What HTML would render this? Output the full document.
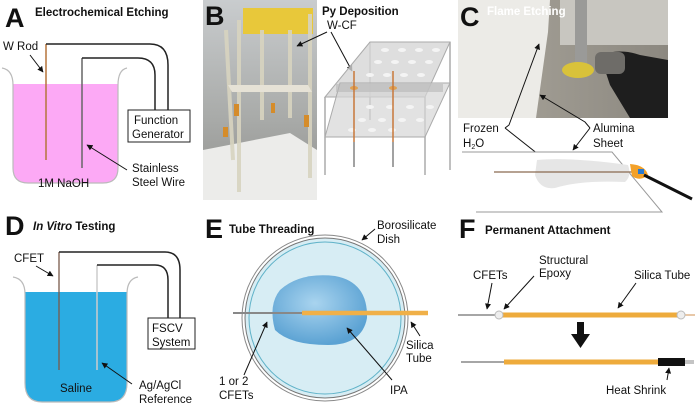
<!DOCTYPE html>
<html><head><meta charset="utf-8"><style>
html,body{margin:0;padding:0;background:#fff}
svg{display:block}
text{font-family:"Liberation Sans",sans-serif;font-size:11.5px;fill:#111}
.b{font-weight:bold}
.L{font-size:27px;font-weight:bold}
</style></head><body>
<svg width="696" height="407" viewBox="0 0 696 407" xmlns="http://www.w3.org/2000/svg">
<defs>
<marker id="ar" viewBox="0 0 10 10" refX="9" refY="5" markerWidth="6" markerHeight="6" orient="auto"><path d="M0,0L10,5L0,10z" fill="#111"/></marker>
<linearGradient id="gb" x1="0" y1="0" x2="0" y2="1"><stop offset="0" stop-color="#c9ccce"/><stop offset="0.6" stop-color="#a8aaa8"/><stop offset="1" stop-color="#8f8f8c"/></linearGradient>
<linearGradient id="gc" x1="0" y1="0" x2="1" y2="0"><stop offset="0" stop-color="#aaa69c"/><stop offset="1" stop-color="#8c8880"/></linearGradient>
<radialGradient id="ipa" cx="0.45" cy="0.4" r="0.6"><stop offset="0" stop-color="#a9d4ef"/><stop offset="1" stop-color="#5ba2d3"/></radialGradient>
</defs>

<!-- A -->
<text x="5" y="27" class="L">A</text>
<text x="35" y="16" class="b">Electrochemical Etching</text>
<path d="M13,84 L118,84 L118,168 Q118,183 103,183 L28,183 Q13,183 13,168 Z" fill="#fca9f5"/>
<path d="M2,68 Q13,70 13,85 L13,168 Q13,183 28,183 L103,183 Q118,183 118,168 L118,85 Q118,70 127,68" fill="none" stroke="#bbb" stroke-width="1.2"/>
<line x1="46" y1="44" x2="46" y2="160" stroke="#b5743a" stroke-width="1.5"/>
<path d="M46,44 L150,44 Q168,44 168,65 L168,110" fill="none" stroke="#222" stroke-width="1.5"/>
<line x1="82" y1="58" x2="82" y2="168" stroke="#666" stroke-width="1.5"/>
<path d="M82,58 L138,58 Q155,58 155,75 L155,110" fill="none" stroke="#222" stroke-width="1.5"/>
<rect x="128" y="110" width="62" height="32" fill="#fff" stroke="#222" stroke-width="1"/>
<text x="134" y="124">Function</text><text x="132" y="138">Generator</text>
<text x="3" y="50">W Rod</text>
<line x1="30" y1="55" x2="43" y2="72" stroke="#111" marker-end="url(#ar)"/>
<text x="38" y="187">1M NaOH</text>
<text x="132" y="172">Stainless</text><text x="132" y="186">Steel Wire</text>
<line x1="127" y1="170" x2="87" y2="145" stroke="#111" marker-end="url(#ar)"/>

<!-- B photo -->
<rect x="203" y="0" width="114" height="200" fill="url(#gb)"/>
<path d="M203,150 L290,133 L317,150 L317,200 L203,200Z" fill="#ececea"/>
<rect x="243" y="8" width="70" height="26" fill="#e8c83a"/>
<g stroke="#d8d4c0" stroke-width="4" opacity="0.9">
<line x1="239" y1="20" x2="239" y2="192"/><line x1="310" y1="14" x2="310" y2="178"/><line x1="262" y1="30" x2="262" y2="120"/><line x1="290" y1="30" x2="290" y2="118"/><line x1="226" y1="30" x2="233" y2="160"/>
</g>
<path d="M228,85 L308,85 L312,92 L232,92Z" fill="#e6e2d6"/>
<rect x="234" y="104" width="5" height="12" fill="#d58c2a"/><rect x="271" y="103" width="4" height="10" fill="#d58c2a"/><rect x="304" y="115" width="5" height="12" fill="#d58c2a"/><rect x="223" y="127" width="5" height="10" fill="#d58c2a"/>
<text x="205" y="25" class="L">B</text>
<text x="322" y="15" class="b" font-size="12.5">Py Deposition</text>
<text x="327" y="29">W-CF</text>
<line x1="327" y1="32" x2="297" y2="46" stroke="#111" marker-end="url(#ar)"/>
<line x1="331" y1="32" x2="352" y2="71" stroke="#111" marker-end="url(#ar)"/>
<!-- B schematic -->
<g stroke="#aaa" stroke-width="1.5" fill="none"><line x1="370" y1="42" x2="370" y2="120"/><line x1="450" y1="42" x2="450" y2="170"/><line x1="325" y1="97" x2="325" y2="175"/><line x1="425" y1="97" x2="425" y2="175"/></g>
<path d="M370,42 L450,42 L425,97 L325,97Z" fill="#d6d6d6" fill-opacity="0.8" stroke="#aaa"/>
<path d="M340,83 L450,83 L425,137 L325,137Z" fill="#d6d6d6" fill-opacity="0.7" stroke="#aaa"/>
<rect x="336" y="84" width="107" height="8" fill="#b8b8b8" opacity="0.6"/>
<g fill="#f4f4f4"><ellipse cx="385" cy="50" rx="4" ry="2"/><ellipse cx="402" cy="50" rx="4" ry="2"/><ellipse cx="419" cy="50" rx="4" ry="2"/><ellipse cx="436" cy="50" rx="4" ry="2"/><ellipse cx="378" cy="62" rx="4" ry="2"/><ellipse cx="395" cy="62" rx="4" ry="2"/><ellipse cx="412" cy="62" rx="4" ry="2"/><ellipse cx="429" cy="62" rx="4" ry="2"/><ellipse cx="370" cy="75" rx="4" ry="2"/><ellipse cx="387" cy="75" rx="4" ry="2"/><ellipse cx="404" cy="75" rx="4" ry="2"/><ellipse cx="421" cy="75" rx="4" ry="2"/><ellipse cx="370" cy="107" rx="4" ry="2"/><ellipse cx="390" cy="107" rx="4" ry="2"/><ellipse cx="410" cy="107" rx="4" ry="2"/><ellipse cx="430" cy="107" rx="4" ry="2"/><ellipse cx="362" cy="120" rx="4" ry="2"/><ellipse cx="382" cy="120" rx="4" ry="2"/><ellipse cx="402" cy="120" rx="4" ry="2"/><ellipse cx="420" cy="120" rx="4" ry="2"/><ellipse cx="352" cy="130" rx="4" ry="2"/><ellipse cx="372" cy="130" rx="4" ry="2"/><ellipse cx="392" cy="130" rx="4" ry="2"/></g>
<ellipse cx="354" cy="88" rx="4" ry="2" fill="#e0a050"/><ellipse cx="393" cy="88" rx="4" ry="2" fill="#e0a050"/>
<line x1="354" y1="71" x2="354" y2="142" stroke="#c8783a" stroke-width="1.5"/><line x1="354" y1="142" x2="354" y2="167" stroke="#444" stroke-width="1"/>
<line x1="393" y1="71" x2="393" y2="142" stroke="#c8783a" stroke-width="1.5"/><line x1="393" y1="142" x2="393" y2="167" stroke="#444" stroke-width="1"/>

<!-- C photo -->
<rect x="458" y="0" width="210" height="118" fill="url(#gc)"/>
<rect x="560" y="0" width="108" height="45" fill="#c8c6c0"/>
<rect x="575" y="0" width="12" height="70" fill="#9a9a98"/>
<ellipse cx="578" cy="70" rx="16" ry="8" fill="#d9c23a"/>
<path d="M458,0 L550,0 L548,32 L536,118 L458,118Z" fill="#ecebe7"/>
<path d="M600,55 Q620,48 640,55 L668,60 L668,118 L630,118 L610,85 Z" fill="#1e1e1e"/>
<rect x="595" y="52" width="30" height="22" rx="6" fill="#6e6c68"/>
<text x="460" y="26" class="L">C</text>
<text x="487" y="15" class="b" style="fill:#fff" font-size="12.5">Flame Etching</text>
<text x="463" y="132">Frozen</text><text x="463" y="147">H<tspan font-size="7" dy="2">2</tspan><tspan dy="-2">O</tspan></text>
<text x="593" y="132">Alumina</text><text x="593" y="147">Sheet</text>
<path d="M505,128 L509,125 L539,44" fill="none" stroke="#111" marker-end="url(#ar)"/>
<path d="M505,128 L548,162" fill="none" stroke="#111" marker-end="url(#ar)"/>
<path d="M590,128 L585,122 L540,95" fill="none" stroke="#111" marker-end="url(#ar)"/>
<path d="M590,128 L573,150" fill="none" stroke="#111" marker-end="url(#ar)"/>
<path d="M462,152 L612,152 L662,212 L476,212" fill="#fff" stroke="#999"/>
<path d="M537,160 Q570,157 628,165 Q632,176 625,182 Q580,180 555,188 Q540,190 535,175Z" fill="#e6e6e6"/>
<line x1="494" y1="172" x2="640" y2="172" stroke="#8a6a50" stroke-width="1.2"/>
<path d="M630,164 Q645,165 648,175 Q640,182 632,176Z" fill="#f3a12a"/>
<rect x="638" y="169" width="6" height="5" fill="#2a7ad0"/>
<line x1="644" y1="175" x2="692" y2="199" stroke="#111" stroke-width="3"/>

<!-- D -->
<text x="5" y="235" class="L">D</text>
<text x="33" y="230" class="b"><tspan font-style="italic">In Vitro</tspan> Testing</text>
<path d="M25,292 L127,292 L127,383 Q127,402 110,402 L42,402 Q25,402 25,383Z" fill="#2bace2"/>
<path d="M13,277 Q25,279 25,294 L25,383 Q25,402 42,402 L110,402 Q127,402 127,383 L127,294 Q127,279 138,277" fill="none" stroke="#bbb" stroke-width="1.2"/>
<line x1="59" y1="252" x2="59" y2="370" stroke="#7a5a4a" stroke-width="1.3"/>
<path d="M59,252 L165,252 Q180,252 180,270 L180,318" fill="none" stroke="#222" stroke-width="1.5"/>
<line x1="97" y1="265" x2="97" y2="370" stroke="#ccc" stroke-width="1.5"/>
<path d="M97,265 L155,265 Q168,265 168,280 L168,318" fill="none" stroke="#222" stroke-width="1.5"/>
<rect x="148" y="318" width="47" height="31" fill="#fff" stroke="#222"/>
<text x="152" y="332">FSCV</text><text x="152" y="346">System</text>
<text x="14" y="262">CFET</text>
<line x1="36" y1="266" x2="53" y2="276" stroke="#111" marker-end="url(#ar)"/>
<text x="60" y="392">Saline</text>
<text x="139" y="389">Ag/AgCl</text><text x="139" y="403">Reference</text>
<line x1="132" y1="384" x2="102" y2="363" stroke="#111" marker-end="url(#ar)"/>

<!-- E -->
<text x="205" y="238" class="L">E</text>
<text x="229" y="233" class="b">Tube Threading</text>
<circle cx="325" cy="318" r="83" fill="#fff" stroke="#888" stroke-width="1"/>
<circle cx="325" cy="318" r="80" fill="#d7edf4" stroke="#777" stroke-width="1"/>
<circle cx="325" cy="318" r="76" fill="none" stroke="#5fb2c8" stroke-width="1"/>
<path d="M280,290 Q300,272 335,276 Q368,282 367,318 Q362,345 328,345 Q290,345 275,330 Q268,305 280,290Z" fill="url(#ipa)"/>
<line x1="233" y1="313" x2="305" y2="313" stroke="#888" stroke-width="2"/>
<line x1="302" y1="313" x2="428" y2="313" stroke="#f0b048" stroke-width="4.5"/>
<text x="377" y="229">Borosilicate</text><text x="377" y="243">Dish</text>
<line x1="375" y1="229" x2="362" y2="240" stroke="#111" marker-end="url(#ar)"/>
<text x="406" y="349">Silica</text><text x="406" y="362">Tube</text>
<line x1="420" y1="336" x2="411" y2="322" stroke="#111" marker-end="url(#ar)"/>
<text x="390" y="394">IPA</text>
<line x1="392" y1="380" x2="347" y2="328" stroke="#111" marker-end="url(#ar)"/>
<text x="219" y="385">1 or 2</text><text x="219" y="399">CFETs</text>
<line x1="244" y1="375" x2="267" y2="322" stroke="#111" marker-end="url(#ar)"/>

<!-- F -->
<text x="459" y="238" class="L">F</text>
<text x="485" y="234" class="b">Permanent Attachment</text>
<text x="539" y="264">Structural</text><text x="539" y="277">Epoxy</text>
<text x="473" y="279">CFETs</text>
<text x="634" y="279">Silica Tube</text>
<line x1="492" y1="283" x2="487" y2="309" stroke="#111" marker-end="url(#ar)"/>
<line x1="534" y1="276" x2="504" y2="309" stroke="#111" marker-end="url(#ar)"/>
<line x1="636" y1="283" x2="618" y2="308" stroke="#111" marker-end="url(#ar)"/>
<line x1="458" y1="315" x2="500" y2="315" stroke="#888" stroke-width="1.5"/>
<line x1="497" y1="315" x2="681" y2="315" stroke="#eeab3c" stroke-width="5"/>
<line x1="681" y1="315" x2="695" y2="315" stroke="#d09050" stroke-width="1"/>
<circle cx="499" cy="315" r="4" fill="#eee" stroke="#bbb"/><circle cx="681" cy="315" r="4" fill="#eee" stroke="#bbb"/>
<rect x="577" y="322" width="7" height="14" fill="#111"/><path d="M571,334 L590,334 L580.5,348Z" fill="#111"/>
<line x1="461" y1="362" x2="506" y2="362" stroke="#888" stroke-width="1.5"/>
<line x1="504" y1="362" x2="660" y2="362" stroke="#eeab3c" stroke-width="5"/>
<rect x="658" y="358" width="27" height="8" fill="#111"/>
<line x1="685" y1="361" x2="694" y2="361" stroke="#888"/><line x1="685" y1="363" x2="694" y2="363" stroke="#888"/>
<text x="606" y="394">Heat Shrink</text>
<line x1="667" y1="380" x2="669" y2="368" stroke="#111" marker-end="url(#ar)"/>
</svg>
</body></html>
